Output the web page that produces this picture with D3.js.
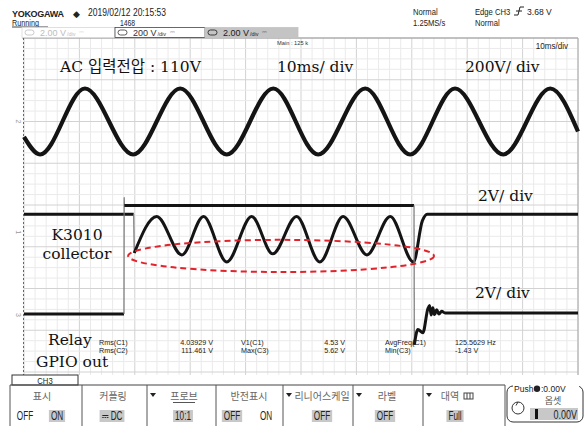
<!DOCTYPE html>
<html>
<head>
<meta charset="utf-8">
<script src="https://cdn.jsdelivr.net/npm/d3@7"></script>
<style>
  body { margin: 0; background: #fff; }
  svg { display: block; }
  .ui { font-family: "Liberation Sans", Arial, sans-serif; }
  .kr { font-family: "Noto Sans CJK KR", sans-serif; }
  .note { font-family: "DejaVu Serif", "Noto Sans CJK KR", serif; font-size: 15.5px; fill: #111; }
</style>
</head>
<body>
<div id="chart"></div>
<script>
// CH2 : AC input (200 V/div) - peaks and troughs, time in ms
const acTime = [0, 2.9, 11.0, 19.7, 28.2, 36.6, 45.0, 53.1, 61.6, 69.7, 77.8, 86.5, 95.0, 100];
const acVolt = [-74, -158, 158, -158, 158, -158, 158, -158, 158, -158, 158, -158, 158, -48];

// CH1 : K3010 collector (2 V/div)
const colTime = [0, 19.8, 19.9, 23.95, 28.5, 32.4, 36.6, 41.1, 44.9, 49.2, 53.4, 57.6, 61.9, 66.1, 70.3, 71.9, 72.8, 100];
const colVolt = [4.52, 4.52, 2.66, 4.41, 2.57, 4.41, 2.23, 4.41, 2.62, 4.41, 2.23, 4.41, 2.57, 4.41, 2.23, 4.2, 4.52, 4.52];

// CH3 : relay GPIO out (2 V/div)
const gpioTime = [0, 18.05, 18.08, 18.12, 70.4, 70.45, 71.1, 72.0, 72.9, 73.2, 73.5, 73.8, 74.1, 74.5, 74.9, 75.4, 76.0, 100];
const gpioVolt = [0.05, 0.05, 5.62, 5.25, 5.25, -1.43, -0.7, -0.85, 0.3, 0.45, 0.0, 0.35, 0.02, 0.25, 0.05, 0.18, 0.1, 0.1];

// measurement readout
const measNames = ['Rms(C1)', 'Rms(C2)', 'V1(C1)', 'Max(C3)', 'AvgFreq(C1)', 'Min(C3)'];
const measValues = ['4.03929 V', '111.461 V', '4.53 V', '5.62 V', '125.5629 Hz', '-1.43 V'];

// channel scale boxes
const chScales = ['2.00 V', '200 V', '2.00 V'];

// CH3 menu
const menuLabels = ['표시', '커플링', '프로브', '반전표시', '리니어스케일', '라벨', '대역'];
const menuValues = [['OFF', 'ON'], ['⎓ DC'], ['10:1'], ['OFF', 'ON'], ['OFF'], ['OFF'], ['Full']];

const width = 585, height = 426;
const plot = { left: 24, right: 578, top: 38, bottom: 372 };

const svg = d3.select('#chart').append('svg').attr('width', width).attr('height', height);

// 10 ms/div across 10 divisions, 8 vertical divisions
const x = d3.scaleLinear().domain([0, 100]).range([plot.left, plot.right]);
const yDiv = d3.scaleLinear().domain([-4, 4]).range([plot.bottom, plot.top]);

// channel vertical settings (V/div and zero position in divisions)
const ch1 = { perDiv: 2, zero: -2.48 };
const ch2 = { perDiv: 200, zero: 2.0 };
const ch3 = { perDiv: 2, zero: -2.635 };
const yOf = (ch) => (v) => yDiv(ch.zero + v / ch.perDiv);

// squeeze text horizontally, the scope font is narrow
function condense(sel, k) {
  sel.each(function () {
    const w = this.getComputedTextLength();
    d3.select(this).attr('textLength', w * k).attr('lengthAdjust', 'spacingAndGlyphs');
  });
}

// ===================== GRID ===================== //
const grid = svg.append('g');
grid.selectAll('.gv').data(d3.range(0, 101, 2)).enter().append('line')
  .attr('x1', (d) => x(d)).attr('x2', (d) => x(d))
  .attr('y1', plot.top).attr('y2', plot.bottom + 3)
  .attr('stroke', (d) => (d % 10 === 0 ? '#d2d2d2' : '#eaeaea'))
  .attr('stroke-width', 1);
grid.selectAll('.gh').data(d3.range(-16, 17)).enter().append('line')
  .attr('x1', plot.left).attr('x2', plot.right)
  .attr('y1', (d) => yDiv(d / 4)).attr('y2', (d) => yDiv(d / 4))
  .attr('stroke', (d) => (d % 4 === 0 ? '#d2d2d2' : '#eaeaea'))
  .attr('stroke-width', 1);
// frame
svg.append('line').attr('x1', 22).attr('x2', plot.right).attr('y1', plot.top).attr('y2', plot.top)
  .attr('stroke', '#999');
svg.append('line').attr('x1', plot.right).attr('x2', plot.right).attr('y1', plot.top).attr('y2', plot.bottom + 3)
  .attr('stroke', '#aaa');
svg.append('line').attr('x1', plot.left - 0.5).attr('x2', plot.left - 0.5).attr('y1', plot.top).attr('y2', 375)
  .attr('stroke', '#666').attr('stroke-dasharray', '2,2');

// channel position markers on the left
[[ch2.zero, '2'], [-0.65, '1'], [ch3.zero, '3']].forEach(([d, n]) => {
  svg.append('text').attr('class', 'ui')
    .attr('transform', `translate(18, ${yDiv(d)}) rotate(90)`)
    .attr('text-anchor', 'middle').attr('dy', '0.35em')
    .attr('font-size', 7).attr('fill', '#999').text(n);
});

// ===================== TRACES ===================== //
function drawTrace(times, volts, ch, w) {
  const y = yOf(ch);
  const pts = times.map((t, i) => [x(t), y(volts[i])]);
  // split into smooth runs and fast edges (narrower than one pixel)
  const runs = [];
  let cur = [pts[0]];
  let curEdge = null;
  for (let i = 1; i < pts.length; i++) {
    const edge = Math.abs(pts[i][0] - pts[i - 1][0]) < 1;
    if (curEdge === null) curEdge = edge;
    if (edge !== curEdge) {
      runs.push({ edge: curEdge, pts: cur });
      cur = [pts[i - 1]];
      curEdge = edge;
    }
    cur.push(pts[i]);
  }
  runs.push({ edge: curEdge, pts: cur });

  const smooth = d3.line().curve(d3.curveMonotoneX);
  const straight = d3.line();
  runs.forEach((r) => {
    svg.append('path')
      .attr('d', r.edge ? straight(r.pts) : smooth(r.pts))
      .attr('fill', 'none')
      .attr('stroke', r.edge ? '#777' : '#141414')
      .attr('stroke-width', r.edge ? 1.2 : w)
      .attr('stroke-linejoin', 'round');
  });
}

drawTrace(acTime, acVolt, ch2, 4.2);
drawTrace(colTime, colVolt, ch1, 3);
drawTrace(gpioTime, gpioVolt, ch3, 3);

// red dashed ellipse round the collector ripple
const yc1 = yOf(ch1);
svg.append('ellipse')
  .attr('cx', x(46.4)).attr('cy', yc1(2.52))
  .attr('rx', x(46.4 + 27.6) - x(46.4)).attr('ry', yc1(2.52) - yc1(3.29))
  .attr('fill', 'none').attr('stroke', '#e3232b').attr('stroke-width', 2)
  .attr('stroke-dasharray', '6,4');

// ===================== ANNOTATIONS ===================== //
const notes = [
  ['AC 입력전압 : 110V', 60, 72, 'start'],
  ['10ms/ div', 277, 72, 'start'],
  ['200V/ div', 465, 72, 'start'],
  ['2V/ div', 478, 201, 'start'],
  ['2V/ div', 475, 298, 'start'],
  ['K3010', 77, 240, 'middle'],
  ['collector', 77, 259, 'middle'],
  ['Relay', 48, 345, 'start'],
  ['GPIO out', 36, 367, 'start'],
];
svg.selectAll('.note').data(notes).enter().append('text')
  .attr('class', 'note')
  .attr('x', (d) => d[1]).attr('y', (d) => d[2])
  .attr('text-anchor', (d) => d[3])
  .text((d) => d[0]);

// measurements
const measX = [[99, 'start'], [213, 'end'], [241, 'start'], [345, 'end'], [385, 'start'], [455, 'start']];
const meas = svg.append('g').attr('class', 'ui').attr('font-size', 7.2).attr('fill', '#222');
[0, 1].forEach((row) => {
  [0, 1, 2].forEach((col) => {
    const i = col * 2 + row;
    meas.append('text')
      .attr('x', measX[col * 2][0]).attr('y', 344.5 + row * 8.5)
      .text(measNames[i]);
    meas.append('text')
      .attr('x', measX[col * 2 + 1][0]).attr('y', 344.5 + row * 8.5)
      .attr('text-anchor', measX[col * 2 + 1][1])
      .text(measValues[i]);
  });
});

// ===================== HEADER ===================== //
const head = svg.append('g').attr('class', 'ui').attr('fill', '#222');
head.append('text').attr('x', 12).attr('y', 17).attr('font-size', 9)
  .attr('font-weight', 'bold').attr('letter-spacing', -0.3).text('YOKOGAWA');
head.append('text').attr('x', 73).attr('y', 17).attr('font-size', 8.5).text('◆');
condense(head.append('text').attr('x', 88).attr('y', 16).attr('font-size', 10)
  .text('2019/02/12 20:15:53'), 0.85);
condense(head.append('text').attr('x', 12).attr('y', 25.5).attr('font-size', 8.5).text('Running'), 0.85);
head.append('line').attr('x1', 12).attr('x2', 48).attr('y1', 27).attr('y2', 27).attr('stroke', '#444');
condense(head.append('text').attr('x', 120).attr('y', 25.5).attr('font-size', 8.5).text('1468'), 0.8);

[['Normal', 413, 15], ['1.25MS/s', 413, 26], ['Normal', 475, 26]].forEach(([t, tx, ty]) => {
  condense(head.append('text').attr('x', tx).attr('y', ty).attr('font-size', 9).text(t), 0.85);
});
condense(head.append('text').attr('x', 475).attr('y', 15).attr('font-size', 9).text('Edge CH3'), 0.85);
head.append('path').attr('d', 'M514,15 L518,15 L520,7 L524,7 M516,11 L522,11')
  .attr('fill', 'none').attr('stroke', '#222').attr('stroke-width', 1);
condense(head.append('text').attr('x', 527).attr('y', 15).attr('font-size', 9).text('3.68 V'), 0.95);

// channel scale boxes
const boxX = [22, 115, 205];
const boxW = [93, 90, 93];
const boxFill = ['#fff', '#fff', '#c4c4c4'];
const boxStroke = ['#d8d8d8', '#444', '#c4c4c4'];
const boxInk = ['#bdbdbd', '#333', '#1a1a1a'];
chScales.forEach((s, i) => {
  const g = head.append('g').attr('transform', `translate(${boxX[i]},27.5)`);
  g.append('rect').attr('width', boxW[i]).attr('height', 10)
    .attr('fill', boxFill[i]).attr('stroke', boxStroke[i]).attr('stroke-width', 0.8);
  g.append('rect').attr('x', 3).attr('y', 2.5).attr('width', 9).attr('height', 5).attr('rx', 2.5)
    .attr('fill', 'none').attr('stroke', boxInk[i]).attr('stroke-width', 0.8);
  const t = g.append('text').attr('x', 18).attr('y', 8.5).attr('font-size', 9)
    .attr('fill', boxInk[i]).text(s);
  const w = t.node().getComputedTextLength();
  g.append('text').attr('x', 18 + w + 1).attr('y', 8.5).attr('font-size', 5.5)
    .attr('fill', boxInk[i]).text('/div');
  g.append('text').attr('x', 18 + w + 13).attr('y', 6.5).attr('font-size', 6)
    .attr('fill', boxInk[i]).text('⎓');
});

condense(svg.append('text').attr('class', 'ui').attr('x', 277).attr('y', 45).attr('font-size', 6)
  .attr('fill', '#333').text('Main : 125 k'), 0.95);
condense(svg.append('text').attr('class', 'ui').attr('x', 568).attr('y', 48.5).attr('font-size', 9.5)
  .attr('text-anchor', 'end').attr('fill', '#222').text('10ms/div'), 0.85);

// ===================== CH3 MENU ===================== //
const menu = svg.append('g');
menu.append('rect').attr('x', 12).attr('y', 375).attr('width', 66).attr('height', 10)
  .attr('fill', '#fff').attr('stroke', '#333');
condense(menu.append('text').attr('class', 'ui').attr('x', 45).attr('y', 383.5).attr('font-size', 9)
  .attr('text-anchor', 'middle').attr('fill', '#222').text('CH3'), 0.85);
menu.append('line').attr('x1', 10).attr('x2', 505).attr('y1', 385).attr('y2', 385).attr('stroke', '#444');

const cellEdges = [10, 82, 147, 216, 283, 353, 423, 505];
cellEdges.forEach((cx) => {
  menu.append('line').attr('x1', cx).attr('x2', cx).attr('y1', 385).attr('y2', 426).attr('stroke', '#555');
});
const labelX = [42, 113, 184, 249, 322, 387, 450];
const hasArrow = [false, false, true, false, true, true, true];
menuLabels.forEach((l, i) => {
  menu.append('text').attr('class', 'kr').attr('x', labelX[i]).attr('y', 400)
    .attr('font-size', 10).attr('text-anchor', 'middle').attr('fill', '#666').text(l);
  if (hasArrow[i]) {
    const ax = cellEdges[i] + 6;
    menu.append('path').attr('d', `M${ax - 3},393 L${ax + 3},393 L${ax},397 Z`).attr('fill', '#222');
  }
});
// underline under 프로브 and the band icon
menu.append('line').attr('x1', 173).attr('x2', 195).attr('y1', 402.5).attr('y2', 402.5).attr('stroke', '#555');
menu.append('rect').attr('x', 464).attr('y', 393).attr('width', 9).attr('height', 6)
  .attr('fill', 'none').attr('stroke', '#444');
menu.append('line').attr('x1', 467).attr('x2', 467).attr('y1', 393).attr('y2', 399).attr('stroke', '#444');
menu.append('line').attr('x1', 470).attr('x2', 470).attr('y1', 393).attr('y2', 399).attr('stroke', '#444');

const valueX = [[25, 57], [112], [183], [232, 266], [322], [385], [455]];
const valueHi = [[false, true], [true], [true], [true, false], [true], [true], [true]];
menuValues.forEach((vals, i) => {
  vals.forEach((v, j) => {
    const t = menu.append('text').attr('class', 'ui').attr('x', valueX[i][j]).attr('y', 420)
      .attr('font-size', 12).attr('text-anchor', 'middle').attr('fill', '#222').text(v);
    condense(t, 0.68);
    if (valueHi[i][j]) {
      const w = +t.attr('textLength');
      menu.insert('rect', 'text').attr('x', valueX[i][j] - w / 2 - 2).attr('y', 410)
        .attr('width', w + 4).attr('height', 12).attr('fill', '#c8c8c8');
    }
  });
});

// offset knob box
menu.append('rect').attr('x', 507).attr('y', 386).attr('width', 76).attr('height', 36).attr('rx', 6)
  .attr('fill', '#fff').attr('stroke', '#333');
menu.append('rect').attr('x', 513).attr('y', 385).attr('width', 66).attr('height', 8).attr('fill', '#fff');
menu.append('text').attr('class', 'ui').attr('x', 514).attr('y', 392).attr('font-size', 8.5)
  .attr('fill', '#222').text('Push');
menu.append('circle').attr('cx', 537).attr('cy', 388.8).attr('r', 3.2).attr('fill', '#222');
menu.append('text').attr('class', 'ui').attr('x', 541).attr('y', 392).attr('font-size', 8.5)
  .attr('fill', '#222').text(':0.00V');
menu.append('text').attr('class', 'kr').attr('x', 553).attr('y', 404).attr('font-size', 9)
  .attr('text-anchor', 'middle').attr('fill', '#555').text('옵셋');
menu.append('circle').attr('cx', 518).attr('cy', 408).attr('r', 6).attr('fill', 'none').attr('stroke', '#333');
menu.append('line').attr('x1', 518).attr('x2', 516).attr('y1', 402).attr('y2', 405.5).attr('stroke', '#333');
menu.append('rect').attr('x', 530).attr('y', 408).attr('width', 48).attr('height', 12).attr('fill', '#c8c8c8');
menu.append('rect').attr('x', 535).attr('y', 409).attr('width', 3).attr('height', 10).attr('fill', '#111');
condense(menu.append('text').attr('class', 'ui').attr('x', 577).attr('y', 418.5).attr('font-size', 12)
  .attr('text-anchor', 'end').attr('fill', '#222').text('0.00V'), 0.75);
</script>
</body>
</html>
